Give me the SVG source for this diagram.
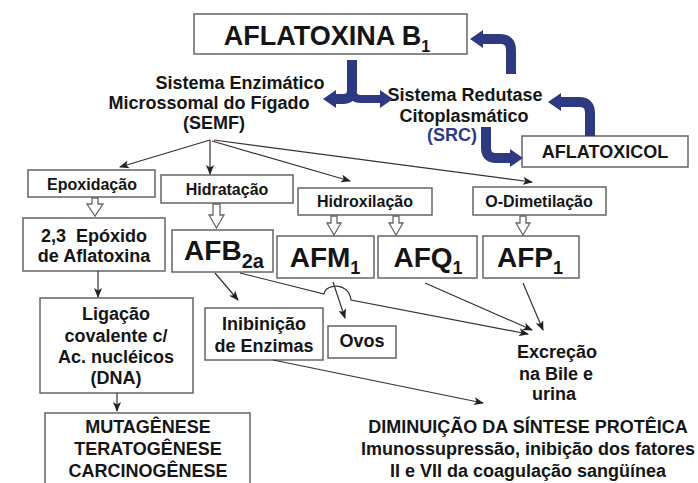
<svg xmlns="http://www.w3.org/2000/svg" width="698" height="483" viewBox="0 0 698 483">
<defs>
<marker id="ah" markerWidth="10" markerHeight="8" refX="9" refY="4" orient="auto" markerUnits="userSpaceOnUse">
<path d="M0,0 L10,4 L0,8 L2.5,4 Z" fill="#222"/>
</marker>
</defs>
<style>
text{font-family:"Liberation Sans",Arial,sans-serif;font-weight:bold;fill:#151515;text-anchor:middle}
.box{fill:#fff;stroke:#666;stroke-width:1.5}
.big{font-size:28px}
.mid{font-size:18px}
.sm{font-size:16px}
.con{fill:none;stroke:#333;stroke-width:1.2;marker-end:url(#ah)}
.hol{fill:#fff;stroke:#666;stroke-width:1.3}
.blue{fill:none;stroke:#2d3a82;stroke-width:10}
.bhead{fill:#2d3a82}
</style>
<rect width="698" height="483" fill="#fff"/>

<g id="aflatoxinaB1">
<rect class="box" x="194" y="14" width="273" height="40"/>
<text x="327" y="45" style="font-size:27px">AFLATOXINA B<tspan font-size="16" dy="7">1</tspan></text>
</g>

<g id="semf">
<text class="mid" x="240" y="89">Sistema Enzimático</text>
<text class="mid" x="209" y="109">Microssomal do Fígado</text>
<text class="mid" x="214" y="129">(SEMF)</text>
</g>

<g id="src">
<text class="mid" x="465" y="101">Sistema Redutase</text>
<text class="mid" x="464" y="122">Citoplasmático</text>
<text class="mid" x="452" y="141" style="fill:#2e3a87">(SRC)</text>
</g>

<g id="aflatoxicol">
<rect class="box" x="522" y="136" width="166" height="31"/>
<text class="mid" x="605" y="158">AFLATOXICOL</text>
</g>

<g id="epoxidacao">
<rect class="box" x="28" y="170" width="127" height="27"/>
<text class="sm" x="92" y="190">Epoxidação</text>
</g>
<g id="hidratacao">
<rect class="box" x="161" y="175" width="132" height="28"/>
<text class="sm" x="227" y="195">Hidratação</text>
</g>
<g id="hidroxilacao">
<rect class="box" x="298" y="188" width="134" height="27"/>
<text class="sm" x="365" y="207">Hidroxilação</text>
</g>
<g id="odimetilacao">
<rect class="box" x="473" y="187" width="133" height="28"/>
<text class="sm" x="539" y="207">O-Dimetilação</text>
</g>

<g id="epoxido">
<rect class="box" x="23" y="218" width="142" height="53"/>
<text class="mid" x="94" y="242" xml:space="preserve" style="white-space:pre">2,3  Epóxido</text>
<text class="mid" x="94" y="262">de Aflatoxina</text>
</g>
<g id="afb2a">
<rect class="box" x="172" y="230" width="101" height="42"/>
<text class="big" x="224" y="260">AFB<tspan font-size="20" dy="8">2a</tspan></text>
</g>
<g id="afm1">
<rect class="box" x="277" y="236" width="97" height="42"/>
<text class="big" x="325" y="267">AFM<tspan font-size="18" dy="7">1</tspan></text>
</g>
<g id="afq1">
<rect class="box" x="378" y="236" width="99" height="42"/>
<text class="big" x="428" y="267">AFQ<tspan font-size="18" dy="7">1</tspan></text>
</g>
<g id="afp1">
<rect class="box" x="483" y="236" width="96" height="42"/>
<text class="big" x="530" y="267">AFP<tspan font-size="18" dy="7">1</tspan></text>
</g>

<g id="ligacao">
<rect class="box" x="40" y="298" width="153" height="95"/>
<text class="mid" x="116" y="320">Ligação</text>
<text class="mid" x="116" y="342">covalente c/</text>
<text class="mid" x="116" y="363">Ac. nucléicos</text>
<text class="mid" x="116" y="384">(DNA)</text>
</g>
<g id="mutagenese">
<rect class="box" x="45" y="413" width="205" height="75"/>
<text class="mid" x="148" y="433">MUTAGÊNESE</text>
<text class="mid" x="148" y="455">TERATOGÊNESE</text>
<text class="mid" x="148" y="477">CARCINOGÊNESE</text>
</g>
<g id="inibicao">
<rect class="box" x="205" y="308" width="118" height="52"/>
<text class="mid" x="264" y="330">Inibinição</text>
<text class="mid" x="264" y="352">de Enzimas</text>
</g>
<g id="ovos">
<rect class="box" x="328" y="326" width="68" height="32"/>
<text class="mid" x="362" y="347">Ovos</text>
</g>
<g id="excrecao">
<text class="mid" x="557" y="358">Excreção</text>
<text class="mid" x="556" y="380">na Bile e</text>
<text class="mid" x="554" y="400">urina</text>
</g>
<g id="diminuicao">
<text class="mid" x="528" y="433">DIMINUIÇÃO DA SÍNTESE PROTÊICA</text>
<text class="mid" x="528" y="455">Imunossupressão, inibição dos fatores</text>
<text class="mid" x="528" y="477">II e VII da coagulação sangüínea</text>
</g>

<g id="connectors">
<path class="blue" d="M352,60 V90 Q352,99 343,99 H334"/>
<path class="blue" d="M352,90 Q352,99 361,99 H382" style="stroke-width:8"/>
<polygon class="bhead" points="323,99 336,90 336,108"/>
<polygon class="bhead" points="393,99 380,90 380,108"/>
<path class="blue" d="M511,74 V50 Q511,39 500,39 H481"/>
<polygon class="bhead" points="470,39 483,30 483,48"/>
<path class="blue" d="M590,136 V113 Q590,102 579,102 H559"/>
<polygon class="bhead" points="548,102 561,93 561,111"/>
<path class="blue" d="M486,127 V148 Q486,158 496,158 H512"/>
<polygon class="bhead" points="523,158 510,149 510,167"/>

<line class="con" x1="210" y1="140" x2="120" y2="167"/>
<line class="con" x1="210" y1="140" x2="210" y2="174"/>
<line class="con" x1="212" y1="141" x2="350" y2="181"/>
<line class="con" x1="214" y1="140" x2="532" y2="182"/>

<polygon class="hol" points="92,198 98,198 98,204 103,204 95,216 87,204 92,204"/>
<polygon class="hol" points="213,204 220,204 220,215 224,215 216.5,228 209,215 213,215"/>
<polygon class="hol" points="331,216 337,216 337,223 341,223 334,235 327,223 331,223"/>
<polygon class="hol" points="393,216 399,216 399,223 403,223 396,235 389,223 393,223"/>
<polygon class="hol" points="520,216 526,216 526,223 530,223 523,235 516,223 520,223"/>

<line class="con" x1="98" y1="271" x2="98" y2="297"/>
<line class="con" x1="117" y1="393" x2="117" y2="411"/>
<line class="con" x1="215" y1="273" x2="238" y2="300"/>
<path class="con" d="M240,273 L324,294 C326,283 349,282 351,300 L528,334"/>
<line class="con" x1="333" y1="282" x2="345" y2="318"/>
<line class="con" x1="425" y1="283" x2="532" y2="330"/>
<line class="con" x1="523" y1="283" x2="543" y2="330"/>
<line class="con" x1="273" y1="360" x2="483" y2="403"/>
</g>
</svg>
